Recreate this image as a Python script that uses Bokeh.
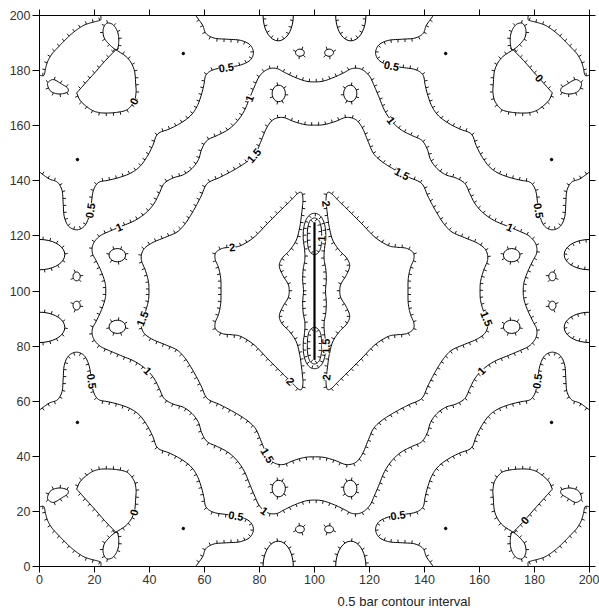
import numpy as np
from bokeh.plotting import figure
from bokeh.models import ColumnDataSource, LabelSet, Title, LinearAxis, FixedTicker, Range1d
from bokeh.core.properties import value
from bokeh.embed import file_html
from bokeh.resources import INLINE

# ---------------- values (map units 0..200) ----------------
# Octant of the lower-left quadrant (left edge / y=100 axis down to the diagonal).
c05_x = [0.0, 3.5, 6.5, 8.2, 8.6, 9.0, 10.6, 13.5, 16.3, 18.0, 18.8, 19.6, 21.5, 25.0, 29.0, 33.2, 36.5, 39.2, 41.2, 43.0]
c05_y = [56.8, 59.3, 60.5, 63.5, 68.0, 73.0, 76.5, 77.8, 76.5, 73.0, 68.5, 63.5, 60.6, 59.8, 58.8, 57.2, 54.8, 51.1, 47.2, 43.0]

c1_x = [24.1, 23.8, 22.4, 20.6, 19.3, 19.2, 20.2, 22.3, 25.5, 29.5, 34.5, 38.5, 41.5, 43.5, 45.3, 48.5, 52.3, 55.5]
c1_y = [100.0, 96.8, 92.8, 89.0, 86.5, 84.0, 81.8, 79.8, 78.3, 76.6, 74.5, 71.8, 68.5, 64.7, 61.0, 59.0, 57.8, 55.5]

c15_x = [39.8, 39.6, 38.5, 37.0, 37.8, 40.8, 45.5, 50.0, 52.8, 55.0, 57.0, 58.8, 61.0]
c15_y = [100.0, 96.5, 92.5, 88.5, 85.0, 82.6, 80.6, 78.6, 75.8, 72.5, 69.0, 65.5, 61.0]

# lower half of the left "2" lobe (from its outer side at y=100 round to its inner side)
lobe2_x = [66.0, 65.9, 65.1, 63.9, 64.1, 66.6, 70.1, 73.2, 78.0, 82.8, 87.6, 91.3, 93.9, 95.3, 95.8, 95.6, 95.2, 94.6, 93.4, 91.0, 88.3, 87.2, 88.3, 90.4, 90.8]
lobe2_y = [100.0, 95.5, 91.5, 88.5, 86.1, 84.5, 84.1, 83.5, 80.5, 75.6, 70.8, 67.2, 64.6, 64.3, 66.5, 69.5, 73.0, 77.0, 81.5, 85.2, 88.0, 90.8, 94.0, 97.5, 100.0]

# lower-left quarter of the 1.5 contour round the fracture, and of the lower "1" oval
frac15_x = [96.0, 95.7, 95.9, 96.5, 96.4, 95.9, 96.1, 97.0, 98.4, 100.0]
frac15_y = [100.0, 96.0, 92.0, 88.5, 85.0, 81.0, 77.0, 74.0, 72.3, 71.8]
oval1_x = [100.0, 98.6, 97.7, 97.4, 97.5, 98.1, 99.0, 100.0]
oval1_y = [86.8, 86.1, 84.2, 81.0, 77.5, 75.0, 73.9, 73.5]

fracture_x = [100.0, 100.0]
fracture_y = [75.0, 125.0]

# zero contour in the lower-left corner
arc0_x = [0.0, 1.6, 2.2, 3.0, 4.5, 6.5, 9.0, 11.4, 13.8, 16.2, 18.8, 21.2, 22.3, 22.3]
arc0_y = [21.7, 21.7, 19.2, 16.6, 14.0, 11.8, 9.2, 6.9, 5.0, 3.5, 2.6, 2.0, 1.5, 0.0]
loopA_x = [2.9, 4.1, 7.1, 10.2, 10.2, 8.4, 5.3, 3.5]
loopA_y = [25.1, 27.5, 28.5, 27.8, 26.3, 25.1, 23.3, 23.9]
loopB_x = [24.5, 23.2, 23.4, 25.2, 28.0, 28.8, 28.5, 26.8]
loopB_y = [2.8, 4.8, 7.8, 10.3, 12.4, 9.8, 6.3, 3.4]
loopC_top_x = [13.5, 15.0, 18.6, 21.5, 24.7, 28.5, 32.0, 34.4, 35.1, 35.0, 34.4, 32.0, 27.8]
loopC_top_y = [28.1, 31.1, 34.1, 35.2, 35.4, 35.1, 34.1, 31.1, 28.0, 25.1, 19.6, 15.4, 12.4]
loopC_diag_x = [27.8, 24.0, 20.5, 17.0, 13.5]
loopC_diag_y = [12.4, 16.3, 20.3, 24.2, 28.1]

dot_x = [13.8]
dot_y = [52.3]
tiny_x = [13.5]
tiny_y = [94.7]
island_x = [28.3]
island_y = [87.0]
edge_bump_y = [86.8]

label_text = ["0.5", "0.5", "1", "1", "1.5", "1.5",
              "0.5", "0.5", "1", "1", "1.5",
              "0.5", "0.5", "1", "1.5",
              "0.5", "0.5", "1", "1", "1.5",
              "2", "2", "2", "2",
              "0", "0", "0", "0",
              "1", "1.5"]
label_x = [68.3, 128.2, 76.8, 128.8, 78.6, 130.0,
           18.6, 18.6, 28.9, 38.0, 37.4,
           71.3, 130.0, 82.2, 82.8,
           181.4, 181.4, 171.1, 162.0, 162.6,
           70.1, 106.0, 105.8, 89.5,
           34.4, 180.9, 34.4, 177.5,
           102.2, 103.8]
label_y = [180.0, 181.3, 170.0, 162.5, 148.6, 139.5,
           129.0, 67.4, 123.1, 69.9, 89.9,
           18.4, 19.0, 20.8, 40.2,
           129.0, 67.4, 123.1, 69.9, 89.9,
           115.9, 132.0, 68.7, 65.6,
           169.1, 176.8, 19.6, 16.3,
           119.0, 80.0]

axis_ticks = list(range(0, 201, 20))
caption = "0.5 bar contour interval"

# ---------------- geometry helpers ----------------
SX, SY = 550 / 200.0, 551 / 200.0   # screen px per map unit


def P(xs, ys):
    return np.column_stack([xs, ys]).astype(float)


def swap(a):
    return a[:, ::-1].copy()


def mx(a):
    b = a.copy(); b[:, 0] = 200 - b[:, 0]; return b


def my(a):
    b = a.copy(); b[:, 1] = 200 - b[:, 1]; return b


def join(a, b):
    if np.allclose(a[-1], b[0]):
        b = b[1:]
    return np.vstack([a, b])


def octant_to_quad(a):
    return join(a, swap(a)[::-1])


def ring(q):
    half = join(q, mx(q)[::-1])
    return join(half, my(half)[::-1])


def q4(a):
    return [a, mx(a), my(a), mx(my(a))]


def close(a):
    return np.vstack([a, a[:1]])


def dedup(a):
    keep = [0]
    for i in range(1, len(a)):
        if np.hypot(*(a[i] - a[keep[-1]])) > 1e-6:
            keep.append(i)
    return a[keep]


def catmull(Pt, closed, n=8):
    if closed:
        Q = Pt[:-1]
        ext = np.vstack([Q[-1], Q, Q[0], Q[1]])
    else:
        ext = np.vstack([2 * Pt[0] - Pt[1], Pt, 2 * Pt[-1] - Pt[-2]])
    t = np.linspace(0, 1, n, endpoint=False)[:, None]
    out = []
    for i in range(1, len(ext) - 2):
        p0, p1, p2, p3 = ext[i - 1], ext[i], ext[i + 1], ext[i + 2]
        out.append(0.5 * (2 * p1 + (-p0 + p2) * t + (2 * p0 - 5 * p1 + 4 * p2 - p3) * t ** 2
                          + (-p0 + 3 * p1 - 3 * p2 + p3) * t ** 3))
    out.append(ext[-2][None, :])
    return np.vstack(out)


items = []


def add(pts, level, ref=None, away=True, ticks=True, smooth=True):
    pts = dedup(np.asarray(pts, float))
    closed = np.allclose(pts[0], pts[-1])
    if smooth and len(pts) >= 3:
        pts = dedup(catmull(pts, closed))
    if ref is None:
        ref = pts.mean(axis=0)
    items.append(dict(pts=pts, level=level, ref=np.asarray(ref, float), away=away, ticks=ticks))


def hachures(pts, ref, away, spacing=7.0, length=3.0):
    S = pts * np.array([SX, SY])
    seg = np.diff(S, axis=0)
    L = np.hypot(seg[:, 0], seg[:, 1])
    cum = np.concatenate([[0], np.cumsum(L)])
    total = cum[-1]
    if total < spacing * 0.6:
        return np.zeros((0, 2)), np.zeros((0, 2))
    s = np.arange(spacing / 2, total, spacing)
    idx = np.clip(np.searchsorted(cum, s, side="right") - 1, 0, len(L) - 1)
    frac = (s - cum[idx]) / L[idx]
    ps = S[idx] + seg[idx] * frac[:, None]
    tang = seg[idx] / L[idx][:, None]
    nrm = np.column_stack([-tang[:, 1], tang[:, 0]])
    score = np.sum(np.sum(nrm * (ps - ref * np.array([SX, SY])), axis=1))
    sgn = 1.0 if score > 0 else -1.0
    if not away:
        sgn = -sgn
    pe = ps + sgn * length * nrm
    return ps / np.array([SX, SY]), pe / np.array([SX, SY])


# ---------------- build the contour set ----------------
for a in q4(octant_to_quad(P(c05_x, c05_y))):
    add(a, "0.5", ref=(100, 100))
add(ring(octant_to_quad(P(c1_x, c1_y))), "1", ref=(100, 100))
add(ring(octant_to_quad(P(c15_x, c15_y))), "1.5", ref=(100, 100))

lq = P(lobe2_x, lobe2_y)
lobe = join(lq, my(lq)[::-1])
add(lobe, "2")
add(mx(lobe), "2")

add(ring(P(frac15_x, frac15_y)), "1.5", ref=(100, 100), away=False)
oq = P(oval1_x, oval1_y)
ov = join(oq, mx(oq)[::-1])
add(ov, "1", away=False)
add(my(ov), "1", away=False)

corner_refs = [(0, 0), (200, 0), (0, 200), (200, 200)]
for a, c in zip(q4(P(arc0_x, arc0_y)), corner_refs):
    add(a, "0", ref=c, away=False)
for lp in [close(P(loopA_x, loopA_y)), close(P(loopB_x, loopB_y))]:
    for a in q4(lp):
        add(a, "0")
ctop = P(loopC_top_x, loopC_top_y)
cdiag = P(loopC_diag_x, loopC_diag_y)
cref = np.vstack([ctop, cdiag]).mean(axis=0)[None, :]
for a, b, r in zip(q4(ctop), q4(cdiag), q4(cref)):
    add(a, "0", ref=r[0])
    add(b, "0", ref=r[0])

th = np.linspace(0, 2 * np.pi, 25)
for cx, cy in zip(island_x, island_y):
    e = np.column_stack([cx + 3.0 * np.cos(th), cy + 2.4 * np.sin(th)])
    for base in (e, swap(e)):
        for a in q4(base):
            add(a, "1.5", smooth=False)
for cx, cy in zip(tiny_x, tiny_y):
    e = np.column_stack([cx + 1.3 * np.cos(th), cy + 1.6 * np.sin(th)])
    for base in (e, swap(e)):
        for a in q4(base):
            add(a, "1", smooth=False)
hth = np.linspace(-np.pi / 2, np.pi / 2, 19)
for cy in edge_bump_y:
    hb = np.column_stack([9.2 * np.cos(hth), cy + 5.5 * np.sin(hth)])
    for base in (hb, swap(hb)):
        for a in q4(base):
            add(a, "1", ref=(base[:, 0].mean(), base[:, 1].mean()), smooth=False)

dots = np.vstack([q for d in [P(dot_x, dot_y)] for base in (d, swap(d)) for q in q4(base)])

# hachures
hx0, hy0, hx1, hy1 = [], [], [], []
for it in items:
    if not it["ticks"]:
        continue
    a, b = hachures(it["pts"], it["ref"], it["away"])
    hx0 += list(a[:, 0]); hy0 += list(a[:, 1]); hx1 += list(b[:, 0]); hy1 += list(b[:, 1])

# labels snapped onto their contour and turned along it
lx, ly, la = [], [], []
for t, x, y in zip(label_text, label_x, label_y):
    best = None
    for it in items:
        if it["level"] != t:
            continue
        pts = it["pts"]
        d = np.hypot(pts[:, 0] - x, pts[:, 1] - y)
        i = int(np.argmin(d))
        if best is None or d[i] < best[0]:
            best = (d[i], pts, i)
    _, pts, i = best
    j0, j1 = max(i - 2, 0), min(i + 2, len(pts) - 1)
    ang = np.arctan2((pts[j1, 1] - pts[j0, 1]) * SY, (pts[j1, 0] - pts[j0, 0]) * SX)
    if ang > np.pi / 2:
        ang -= np.pi
    if ang <= -np.pi / 2:
        ang += np.pi
    lx.append(pts[i, 0]); ly.append(pts[i, 1]); la.append(ang)

# ---------------- figure ----------------
p = figure(width=599, height=614, x_range=Range1d(0, 200), y_range=Range1d(0, 200),
           output_backend="svg", toolbar_location=None,
           min_border_left=39, min_border_right=10, min_border_top=15, min_border_bottom=48,
           background_fill_color="white", border_fill_color="white",
           outline_line_color="black")
p.grid.visible = False

p.multi_line(xs=[list(it["pts"][:, 0]) for it in items], ys=[list(it["pts"][:, 1]) for it in items],
             line_color="black", line_width=1.0)
p.segment(x0=hx0, y0=hy0, x1=hx1, y1=hy1, line_color="black", line_width=0.9)
p.scatter(dots[:, 0], dots[:, 1], size=2.5, color="black", marker="circle")
p.line(fracture_x, fracture_y, line_color="black", line_width=2.2)

src = ColumnDataSource(dict(x=lx, y=ly, t=label_text, a=la))
p.add_layout(LabelSet(source=src, x="x", y="y", text="t", angle="a",
                      text_font=value("Liberation Sans"), text_font_size="11px",
                      text_font_style="bold", text_color="black",
                      text_align="center", text_baseline="middle",
                      background_fill_color="white"))

bottom_axis = p.below[0]
left_axis = p.left[0]
top_axis = LinearAxis()
right_axis = LinearAxis()
p.add_layout(top_axis, "above")
p.add_layout(right_axis, "right")


def style(ax, labels, tick_out=6, standoff=3):
    ax.ticker = FixedTicker(ticks=axis_ticks)
    ax.axis_line_color = "black"
    ax.major_tick_line_color = "black"
    ax.minor_tick_line_color = None
    ax.major_tick_out = tick_out
    ax.major_tick_in = 0
    if labels:
        ax.major_label_text_font = "Liberation Sans"
        ax.major_label_text_font_size = "12.5px"
        ax.major_label_text_color = "#333333"
        ax.major_label_standoff = standoff
    else:
        ax.major_label_text_font_size = "1px"
        ax.major_label_text_color = None
        ax.major_label_standoff = 0


style(bottom_axis, True, 6, 2)
style(left_axis, True, 7, 2)
style(top_axis, False)
style(right_axis, False)

p.add_layout(Title(text=caption, align="left", offset=298, standoff=11,
                   text_font="Liberation Sans", text_font_size="13px",
                   text_font_style="normal", text_color="#222222"), "below")

open("out.html", "w").write(file_html(p, INLINE))
